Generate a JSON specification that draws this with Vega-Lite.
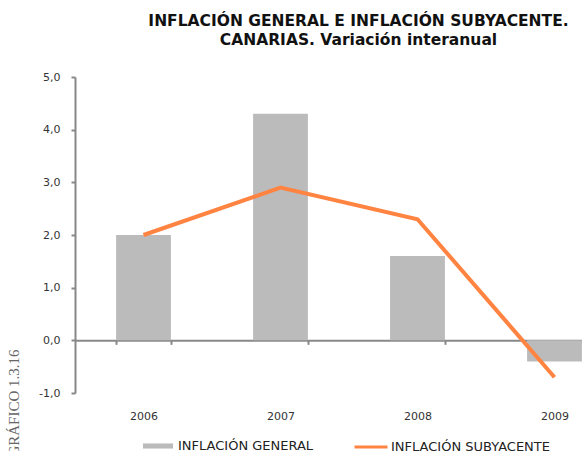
{
  "$schema": "https://vega.github.io/schema/vega-lite/v6.json",
  "width": 507,
  "height": 316,
  "autosize": {"type": "none"},
  "padding": {"left": 75, "top": 77, "right": 0, "bottom": 58},
  "background": "white",
  "title": {
    "text": ["INFLACIÓN GENERAL E INFLACIÓN SUBYACENTE.", "CANARIAS. Variación interanual"],
    "font": "DejaVu Sans",
    "fontSize": 15.5,
    "fontWeight": "bold",
    "lineHeight": 19,
    "color": "#111111",
    "anchor": "middle",
    "frame": "group",
    "offset": 23,
    "dx": 30
  },
  "data": {
    "values": [
      {"year": "2006", "general": 2.0, "subyacente": 2.0},
      {"year": "2007", "general": 4.3, "subyacente": 2.9},
      {"year": "2008", "general": 1.6, "subyacente": 2.3},
      {"year": "2009", "general": -0.4, "subyacente": -0.7}
    ]
  },
  "encoding": {
    "x": {
      "field": "year",
      "type": "nominal",
      "sort": null,
      "scale": {"range": [0, 548], "paddingInner": 0.6, "paddingOuter": 0.3},
      "axis": {
        "title": null,
        "labelAngle": 0,
        "offset": -52.67,
        "domain": true,
        "domainColor": "#888888",
        "domainWidth": 2,
        "ticks": true,
        "tickBand": "extent",
        "tickSize": 4,
        "tickColor": "#888888",
        "tickWidth": 2,
        "labelPadding": 66,
        "labelFont": "DejaVu Sans",
        "labelFontSize": 11,
        "labelColor": "#333333",
        "grid": false
      }
    }
  },
  "layer": [
    {
      "mark": {"type": "bar", "color": "#bbbbbb"},
      "encoding": {
        "y": {
          "field": "general",
          "type": "quantitative",
          "scale": {"domain": [-1, 5], "nice": false, "zero": false},
          "axis": {
            "values": [-1, 0, 1, 2, 3, 4, 5],
            "labelExpr": "datum.value < 0 ? '-' + replace(format(-datum.value, '.1f'), '.', ',') : replace(format(datum.value, '.1f'), '.', ',')",
            "grid": false,
            "domainColor": "#888888",
            "domainWidth": 2,
            "tickColor": "#888888",
            "tickWidth": 2,
            "tickSize": 4,
            "labelPadding": 11,
            "labelFont": "DejaVu Sans",
            "labelFontSize": 11,
            "labelColor": "#333333",
            "title": "GRÁFICO 1.3.16",
            "titleFont": "Liberation Serif",
            "titleFontSize": 15,
            "titleFontWeight": "normal",
            "titleColor": "#666666",
            "titleAngle": 270,
            "titleAlign": "center",
            "titleBaseline": "alphabetic",
            "titleX": -57,
            "titleY": 325.5
          }
        },
        "fill": {
          "datum": "INFLACIÓN GENERAL",
          "type": "nominal",
          "scale": {"range": ["#bbbbbb"]},
          "legend": {
            "title": null,
            "orient": "none",
            "legendX": 68,
            "legendY": 354,
            "padding": 0,
            "symbolType": "M-1,-0.17H1V0.17H-1Z",
            "symbolSize": 900,
            "symbolStrokeWidth": 0,
            "labelOffset": 5,
            "labelFont": "DejaVu Sans",
            "labelFontSize": 13,
            "labelColor": "#222222"
          }
        }
      }
    },
    {
      "mark": {"type": "line", "strokeWidth": 4, "strokeCap": "butt"},
      "encoding": {
        "y": {"field": "subyacente", "type": "quantitative"},
        "stroke": {
          "datum": "INFLACIÓN SUBYACENTE",
          "type": "nominal",
          "scale": {"range": ["#ff8442"]},
          "legend": {
            "title": null,
            "orient": "none",
            "legendX": 278,
            "legendY": 352,
            "padding": 0,
            "symbolType": "stroke",
            "symbolSize": 1089,
            "symbolStrokeWidth": 3,
            "labelOffset": 2,
            "labelFont": "DejaVu Sans",
            "labelFontSize": 13,
            "labelColor": "#222222"
          }
        }
      }
    }
  ],
  "config": {"view": {"stroke": null}}
}
